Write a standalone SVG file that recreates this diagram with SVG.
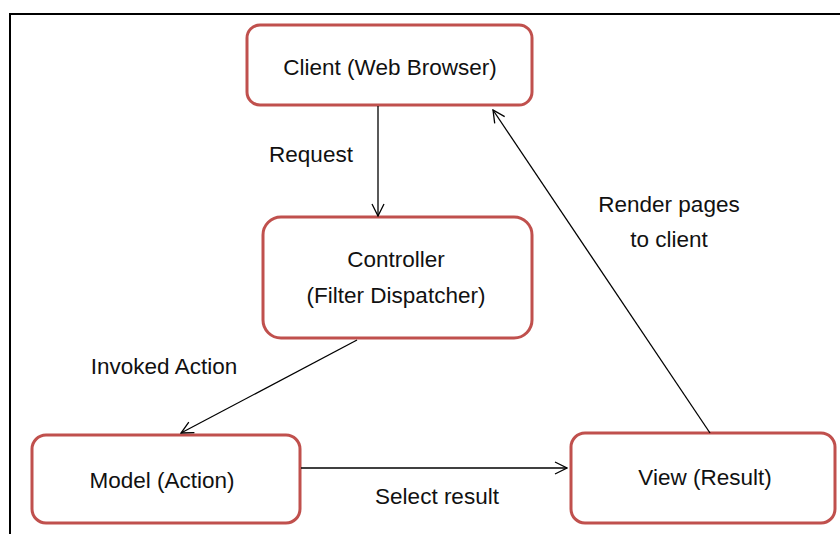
<svg xmlns="http://www.w3.org/2000/svg" width="840" height="534" viewBox="0 0 840 534">
  <defs>
    <marker id="arr" viewBox="0 0 14 14" refX="13" refY="7" markerWidth="14" markerHeight="14" markerUnits="userSpaceOnUse" orient="auto">
      <path d="M1,1 L13,7 L1,13" fill="none" stroke="#000" stroke-width="1.3"/>
    </marker>
  </defs>
  <style>
    .box { fill: #fff; stroke: #c0504d; stroke-width: 3; }
    .t { font-family: "Liberation Sans", Arial, sans-serif; font-size: 22.5px; fill: #111; text-anchor: middle; }
    .c { stroke: #000; stroke-width: 1.3; fill: none; marker-end: url(#arr); }
  </style>
  <rect x="0" y="0" width="840" height="534" fill="#fff"/>
  <rect x="10" y="14" width="840" height="540" fill="none" stroke="#000" stroke-width="2"/>

  <g id="client">
    <rect class="box" x="247" y="25" width="285" height="80" rx="13"/>
    <text class="t" x="390" y="75">Client (Web Browser)</text>
  </g>
  <g id="controller">
    <rect class="box" x="263" y="217" width="269" height="121" rx="18"/>
    <text class="t" x="396" y="267">Controller</text>
    <text class="t" x="396" y="303">(Filter Dispatcher)</text>
  </g>
  <g id="model">
    <rect class="box" x="32" y="435" width="268" height="88" rx="14"/>
    <text class="t" x="162" y="488">Model (Action)</text>
  </g>
  <g id="view">
    <rect class="box" x="571" y="433" width="264" height="90" rx="14"/>
    <text class="t" x="705" y="485">View (Result)</text>
  </g>

  <g id="connectors">
    <line class="c" x1="378" y1="106" x2="378" y2="216"/>
    <line class="c" x1="357" y1="340" x2="181" y2="433"/>
    <line class="c" x1="301" y1="468" x2="567" y2="468"/>
    <line class="c" x1="710" y1="433" x2="493" y2="110"/>
  </g>

  <g id="labels">
    <text class="t" x="311" y="162">Request</text>
    <text class="t" x="669" y="212">Render pages</text>
    <text class="t" x="669" y="247">to client</text>
    <text class="t" x="164" y="374">Invoked Action</text>
    <text class="t" x="437" y="504">Select result</text>
  </g>
</svg>
